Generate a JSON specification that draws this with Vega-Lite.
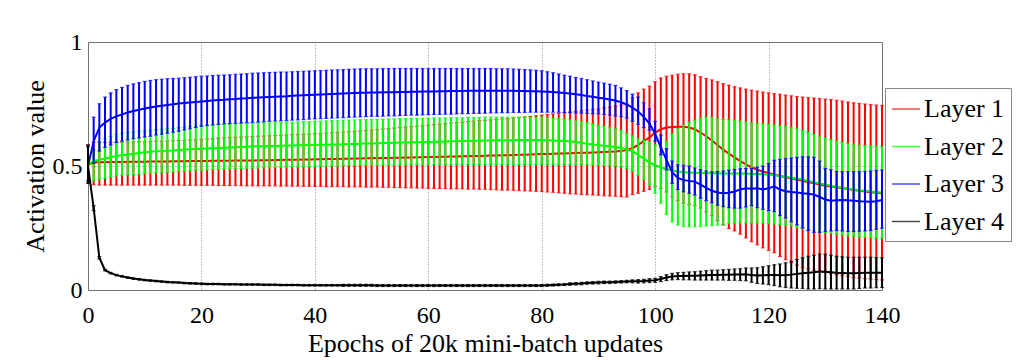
{
"$schema": "https://vega.github.io/schema/vega-lite/v6.json",
"width": 794, "height": 248,
"autosize": "none",
"padding": {"left": 88, "top": 42, "right": 142, "bottom": 74},
"background": "white",
"data": {"values": [
{"e":0,"m1":0.505,"l1":0.43,"h1":0.585,"m2":0.505,"l2":0.44,"h2":0.575,"m3":0.5,"l3":0.44,"h3":0.58,"m4":0.5,"l4":0.43,"h4":0.585},
{"e":1,"m1":0.515,"l1":0.425,"h1":0.595,"m2":0.52,"l2":0.44,"h2":0.565,"m3":0.6,"l3":0.51,"h3":0.697,"m4":0.33,"l4":0.32,"h4":0.34},
{"e":2,"m1":0.515,"l1":0.423,"h1":0.595,"m2":0.525,"l2":0.445,"h2":0.597,"m3":0.655,"l3":0.56,"h3":0.751,"m4":0.13,"l4":0.125,"h4":0.135},
{"e":3,"m1":0.515,"l1":0.423,"h1":0.595,"m2":0.53,"l2":0.45,"h2":0.61,"m3":0.675,"l3":0.575,"h3":0.778,"m4":0.08,"l4":0.077,"h4":0.083},
{"e":4,"m1":0.516,"l1":0.423,"h1":0.595,"m2":0.535,"l2":0.455,"h2":0.62,"m3":0.69,"l3":0.585,"h3":0.795,"m4":0.068,"l4":0.065,"h4":0.071},
{"e":5,"m1":0.516,"l1":0.423,"h1":0.596,"m2":0.54,"l2":0.46,"h2":0.628,"m3":0.7,"l3":0.595,"h3":0.808,"m4":0.06,"l4":0.057,"h4":0.063},
{"e":6,"m1":0.516,"l1":0.423,"h1":0.596,"m2":0.543,"l2":0.463,"h2":0.632,"m3":0.708,"l3":0.6,"h3":0.817,"m4":0.055,"l4":0.052,"h4":0.058},
{"e":7,"m1":0.517,"l1":0.423,"h1":0.597,"m2":0.546,"l2":0.464,"h2":0.635,"m3":0.716,"l3":0.605,"h3":0.825,"m4":0.05,"l4":0.047,"h4":0.053},
{"e":8,"m1":0.517,"l1":0.423,"h1":0.597,"m2":0.549,"l2":0.466,"h2":0.638,"m3":0.722,"l3":0.61,"h3":0.831,"m4":0.046,"l4":0.043,"h4":0.049},
{"e":9,"m1":0.517,"l1":0.423,"h1":0.598,"m2":0.552,"l2":0.467,"h2":0.64,"m3":0.727,"l3":0.613,"h3":0.836,"m4":0.043,"l4":0.04,"h4":0.046},
{"e":10,"m1":0.517,"l1":0.423,"h1":0.598,"m2":0.555,"l2":0.469,"h2":0.642,"m3":0.732,"l3":0.617,"h3":0.841,"m4":0.04,"l4":0.037,"h4":0.043},
{"e":11,"m1":0.518,"l1":0.423,"h1":0.599,"m2":0.557,"l2":0.47,"h2":0.644,"m3":0.736,"l3":0.62,"h3":0.845,"m4":0.038,"l4":0.035,"h4":0.041},
{"e":12,"m1":0.518,"l1":0.423,"h1":0.6,"m2":0.559,"l2":0.472,"h2":0.646,"m3":0.74,"l3":0.625,"h3":0.848,"m4":0.036,"l4":0.033,"h4":0.039},
{"e":13,"m1":0.518,"l1":0.423,"h1":0.6,"m2":0.56,"l2":0.473,"h2":0.648,"m3":0.743,"l3":0.628,"h3":0.85,"m4":0.034,"l4":0.031,"h4":0.037},
{"e":14,"m1":0.518,"l1":0.423,"h1":0.601,"m2":0.562,"l2":0.475,"h2":0.65,"m3":0.746,"l3":0.632,"h3":0.852,"m4":0.032,"l4":0.029,"h4":0.035},
{"e":15,"m1":0.519,"l1":0.423,"h1":0.602,"m2":0.563,"l2":0.476,"h2":0.652,"m3":0.749,"l3":0.636,"h3":0.853,"m4":0.031,"l4":0.028,"h4":0.034},
{"e":16,"m1":0.519,"l1":0.423,"h1":0.603,"m2":0.565,"l2":0.478,"h2":0.655,"m3":0.752,"l3":0.64,"h3":0.854,"m4":0.03,"l4":0.027,"h4":0.033},
{"e":17,"m1":0.519,"l1":0.422,"h1":0.604,"m2":0.567,"l2":0.479,"h2":0.657,"m3":0.754,"l3":0.645,"h3":0.856,"m4":0.028,"l4":0.025,"h4":0.031},
{"e":18,"m1":0.52,"l1":0.422,"h1":0.605,"m2":0.568,"l2":0.48,"h2":0.659,"m3":0.756,"l3":0.65,"h3":0.858,"m4":0.027,"l4":0.024,"h4":0.03},
{"e":19,"m1":0.52,"l1":0.422,"h1":0.606,"m2":0.569,"l2":0.482,"h2":0.661,"m3":0.758,"l3":0.655,"h3":0.86,"m4":0.026,"l4":0.023,"h4":0.029},
{"e":20,"m1":0.52,"l1":0.422,"h1":0.607,"m2":0.57,"l2":0.483,"h2":0.663,"m3":0.76,"l3":0.66,"h3":0.862,"m4":0.025,"l4":0.022,"h4":0.028},
{"e":21,"m1":0.52,"l1":0.422,"h1":0.609,"m2":0.571,"l2":0.484,"h2":0.664,"m3":0.762,"l3":0.663,"h3":0.863,"m4":0.024,"l4":0.021,"h4":0.027},
{"e":22,"m1":0.521,"l1":0.422,"h1":0.61,"m2":0.572,"l2":0.486,"h2":0.665,"m3":0.764,"l3":0.666,"h3":0.865,"m4":0.024,"l4":0.021,"h4":0.027},
{"e":23,"m1":0.521,"l1":0.421,"h1":0.612,"m2":0.573,"l2":0.487,"h2":0.667,"m3":0.766,"l3":0.668,"h3":0.866,"m4":0.024,"l4":0.021,"h4":0.027},
{"e":24,"m1":0.521,"l1":0.421,"h1":0.614,"m2":0.574,"l2":0.488,"h2":0.668,"m3":0.767,"l3":0.67,"h3":0.867,"m4":0.023,"l4":0.02,"h4":0.026},
{"e":25,"m1":0.521,"l1":0.421,"h1":0.615,"m2":0.575,"l2":0.488,"h2":0.669,"m3":0.769,"l3":0.671,"h3":0.868,"m4":0.023,"l4":0.02,"h4":0.026},
{"e":26,"m1":0.522,"l1":0.421,"h1":0.616,"m2":0.576,"l2":0.489,"h2":0.67,"m3":0.77,"l3":0.672,"h3":0.87,"m4":0.023,"l4":0.02,"h4":0.026},
{"e":27,"m1":0.522,"l1":0.421,"h1":0.617,"m2":0.577,"l2":0.49,"h2":0.671,"m3":0.772,"l3":0.673,"h3":0.871,"m4":0.022,"l4":0.019,"h4":0.025},
{"e":28,"m1":0.522,"l1":0.42,"h1":0.618,"m2":0.578,"l2":0.491,"h2":0.671,"m3":0.773,"l3":0.675,"h3":0.872,"m4":0.022,"l4":0.019,"h4":0.025},
{"e":29,"m1":0.522,"l1":0.42,"h1":0.619,"m2":0.579,"l2":0.491,"h2":0.672,"m3":0.775,"l3":0.676,"h3":0.874,"m4":0.022,"l4":0.019,"h4":0.025},
{"e":30,"m1":0.523,"l1":0.42,"h1":0.62,"m2":0.58,"l2":0.492,"h2":0.673,"m3":0.776,"l3":0.677,"h3":0.875,"m4":0.022,"l4":0.019,"h4":0.025},
{"e":31,"m1":0.523,"l1":0.42,"h1":0.621,"m2":0.58,"l2":0.493,"h2":0.674,"m3":0.777,"l3":0.678,"h3":0.876,"m4":0.021,"l4":0.018,"h4":0.024},
{"e":32,"m1":0.523,"l1":0.42,"h1":0.622,"m2":0.581,"l2":0.493,"h2":0.674,"m3":0.778,"l3":0.68,"h3":0.877,"m4":0.021,"l4":0.018,"h4":0.024},
{"e":33,"m1":0.524,"l1":0.42,"h1":0.623,"m2":0.581,"l2":0.494,"h2":0.675,"m3":0.779,"l3":0.681,"h3":0.878,"m4":0.021,"l4":0.018,"h4":0.024},
{"e":34,"m1":0.524,"l1":0.419,"h1":0.624,"m2":0.582,"l2":0.494,"h2":0.676,"m3":0.78,"l3":0.682,"h3":0.879,"m4":0.02,"l4":0.017,"h4":0.023},
{"e":35,"m1":0.525,"l1":0.419,"h1":0.625,"m2":0.583,"l2":0.495,"h2":0.677,"m3":0.781,"l3":0.683,"h3":0.879,"m4":0.02,"l4":0.017,"h4":0.023},
{"e":36,"m1":0.525,"l1":0.419,"h1":0.626,"m2":0.583,"l2":0.496,"h2":0.677,"m3":0.783,"l3":0.685,"h3":0.88,"m4":0.02,"l4":0.017,"h4":0.023},
{"e":37,"m1":0.525,"l1":0.419,"h1":0.627,"m2":0.584,"l2":0.496,"h2":0.678,"m3":0.784,"l3":0.686,"h3":0.881,"m4":0.02,"l4":0.017,"h4":0.023},
{"e":38,"m1":0.526,"l1":0.418,"h1":0.628,"m2":0.584,"l2":0.497,"h2":0.679,"m3":0.785,"l3":0.687,"h3":0.882,"m4":0.019,"l4":0.016,"h4":0.022},
{"e":39,"m1":0.526,"l1":0.418,"h1":0.629,"m2":0.585,"l2":0.497,"h2":0.679,"m3":0.786,"l3":0.689,"h3":0.883,"m4":0.019,"l4":0.016,"h4":0.022},
{"e":40,"m1":0.527,"l1":0.418,"h1":0.63,"m2":0.585,"l2":0.498,"h2":0.68,"m3":0.787,"l3":0.69,"h3":0.884,"m4":0.019,"l4":0.016,"h4":0.022},
{"e":41,"m1":0.527,"l1":0.418,"h1":0.631,"m2":0.586,"l2":0.499,"h2":0.681,"m3":0.788,"l3":0.691,"h3":0.885,"m4":0.019,"l4":0.016,"h4":0.022},
{"e":42,"m1":0.528,"l1":0.417,"h1":0.633,"m2":0.586,"l2":0.499,"h2":0.682,"m3":0.789,"l3":0.692,"h3":0.886,"m4":0.019,"l4":0.016,"h4":0.022},
{"e":43,"m1":0.528,"l1":0.417,"h1":0.634,"m2":0.587,"l2":0.5,"h2":0.683,"m3":0.79,"l3":0.693,"h3":0.887,"m4":0.019,"l4":0.016,"h4":0.022},
{"e":44,"m1":0.528,"l1":0.417,"h1":0.636,"m2":0.587,"l2":0.5,"h2":0.684,"m3":0.791,"l3":0.694,"h3":0.888,"m4":0.019,"l4":0.016,"h4":0.022},
{"e":45,"m1":0.529,"l1":0.417,"h1":0.637,"m2":0.588,"l2":0.501,"h2":0.685,"m3":0.792,"l3":0.695,"h3":0.889,"m4":0.019,"l4":0.015,"h4":0.023},
{"e":46,"m1":0.529,"l1":0.416,"h1":0.639,"m2":0.589,"l2":0.502,"h2":0.685,"m3":0.793,"l3":0.696,"h3":0.89,"m4":0.019,"l4":0.015,"h4":0.023},
{"e":47,"m1":0.53,"l1":0.416,"h1":0.64,"m2":0.589,"l2":0.502,"h2":0.686,"m3":0.794,"l3":0.697,"h3":0.891,"m4":0.019,"l4":0.015,"h4":0.023},
{"e":48,"m1":0.53,"l1":0.416,"h1":0.642,"m2":0.59,"l2":0.503,"h2":0.687,"m3":0.795,"l3":0.698,"h3":0.892,"m4":0.019,"l4":0.015,"h4":0.023},
{"e":49,"m1":0.531,"l1":0.415,"h1":0.643,"m2":0.591,"l2":0.503,"h2":0.687,"m3":0.795,"l3":0.699,"h3":0.892,"m4":0.019,"l4":0.015,"h4":0.023},
{"e":50,"m1":0.531,"l1":0.415,"h1":0.645,"m2":0.591,"l2":0.503,"h2":0.688,"m3":0.796,"l3":0.7,"h3":0.892,"m4":0.019,"l4":0.015,"h4":0.023},
{"e":51,"m1":0.532,"l1":0.415,"h1":0.647,"m2":0.592,"l2":0.503,"h2":0.688,"m3":0.796,"l3":0.7,"h3":0.892,"m4":0.018,"l4":0.014,"h4":0.022},
{"e":52,"m1":0.532,"l1":0.414,"h1":0.649,"m2":0.593,"l2":0.504,"h2":0.689,"m3":0.797,"l3":0.701,"h3":0.893,"m4":0.018,"l4":0.014,"h4":0.022},
{"e":53,"m1":0.532,"l1":0.414,"h1":0.651,"m2":0.593,"l2":0.504,"h2":0.69,"m3":0.797,"l3":0.702,"h3":0.893,"m4":0.018,"l4":0.014,"h4":0.022},
{"e":54,"m1":0.533,"l1":0.413,"h1":0.653,"m2":0.594,"l2":0.504,"h2":0.69,"m3":0.797,"l3":0.702,"h3":0.893,"m4":0.018,"l4":0.014,"h4":0.022},
{"e":55,"m1":0.533,"l1":0.413,"h1":0.655,"m2":0.595,"l2":0.504,"h2":0.691,"m3":0.798,"l3":0.703,"h3":0.893,"m4":0.018,"l4":0.014,"h4":0.022},
{"e":56,"m1":0.534,"l1":0.412,"h1":0.657,"m2":0.595,"l2":0.504,"h2":0.691,"m3":0.798,"l3":0.704,"h3":0.893,"m4":0.018,"l4":0.014,"h4":0.022},
{"e":57,"m1":0.534,"l1":0.412,"h1":0.659,"m2":0.596,"l2":0.505,"h2":0.692,"m3":0.799,"l3":0.705,"h3":0.893,"m4":0.018,"l4":0.014,"h4":0.022},
{"e":58,"m1":0.535,"l1":0.411,"h1":0.661,"m2":0.596,"l2":0.505,"h2":0.692,"m3":0.799,"l3":0.705,"h3":0.893,"m4":0.018,"l4":0.014,"h4":0.022},
{"e":59,"m1":0.535,"l1":0.411,"h1":0.663,"m2":0.597,"l2":0.505,"h2":0.693,"m3":0.8,"l3":0.706,"h3":0.893,"m4":0.018,"l4":0.014,"h4":0.022},
{"e":60,"m1":0.536,"l1":0.41,"h1":0.665,"m2":0.597,"l2":0.505,"h2":0.693,"m3":0.8,"l3":0.707,"h3":0.893,"m4":0.018,"l4":0.014,"h4":0.022},
{"e":61,"m1":0.536,"l1":0.41,"h1":0.667,"m2":0.598,"l2":0.505,"h2":0.694,"m3":0.8,"l3":0.708,"h3":0.893,"m4":0.018,"l4":0.014,"h4":0.022},
{"e":62,"m1":0.537,"l1":0.409,"h1":0.669,"m2":0.598,"l2":0.505,"h2":0.694,"m3":0.801,"l3":0.708,"h3":0.893,"m4":0.018,"l4":0.014,"h4":0.022},
{"e":63,"m1":0.537,"l1":0.409,"h1":0.671,"m2":0.599,"l2":0.505,"h2":0.694,"m3":0.801,"l3":0.709,"h3":0.893,"m4":0.018,"l4":0.014,"h4":0.022},
{"e":64,"m1":0.538,"l1":0.408,"h1":0.673,"m2":0.6,"l2":0.505,"h2":0.695,"m3":0.802,"l3":0.709,"h3":0.893,"m4":0.018,"l4":0.014,"h4":0.022},
{"e":65,"m1":0.538,"l1":0.408,"h1":0.675,"m2":0.6,"l2":0.506,"h2":0.695,"m3":0.802,"l3":0.71,"h3":0.893,"m4":0.018,"l4":0.014,"h4":0.022},
{"e":66,"m1":0.539,"l1":0.408,"h1":0.677,"m2":0.601,"l2":0.506,"h2":0.695,"m3":0.802,"l3":0.711,"h3":0.893,"m4":0.018,"l4":0.014,"h4":0.022},
{"e":67,"m1":0.539,"l1":0.407,"h1":0.679,"m2":0.601,"l2":0.506,"h2":0.696,"m3":0.803,"l3":0.711,"h3":0.893,"m4":0.018,"l4":0.014,"h4":0.022},
{"e":68,"m1":0.54,"l1":0.407,"h1":0.681,"m2":0.602,"l2":0.506,"h2":0.696,"m3":0.803,"l3":0.712,"h3":0.893,"m4":0.018,"l4":0.014,"h4":0.022},
{"e":69,"m1":0.54,"l1":0.406,"h1":0.683,"m2":0.602,"l2":0.506,"h2":0.696,"m3":0.803,"l3":0.712,"h3":0.893,"m4":0.018,"l4":0.014,"h4":0.022},
{"e":70,"m1":0.541,"l1":0.406,"h1":0.684,"m2":0.603,"l2":0.506,"h2":0.697,"m3":0.803,"l3":0.713,"h3":0.893,"m4":0.018,"l4":0.014,"h4":0.022},
{"e":71,"m1":0.542,"l1":0.405,"h1":0.686,"m2":0.603,"l2":0.506,"h2":0.697,"m3":0.803,"l3":0.714,"h3":0.893,"m4":0.018,"l4":0.014,"h4":0.022},
{"e":72,"m1":0.542,"l1":0.404,"h1":0.688,"m2":0.604,"l2":0.506,"h2":0.697,"m3":0.803,"l3":0.714,"h3":0.892,"m4":0.018,"l4":0.014,"h4":0.022},
{"e":73,"m1":0.543,"l1":0.403,"h1":0.69,"m2":0.604,"l2":0.506,"h2":0.697,"m3":0.803,"l3":0.715,"h3":0.892,"m4":0.018,"l4":0.014,"h4":0.022},
{"e":74,"m1":0.543,"l1":0.403,"h1":0.691,"m2":0.604,"l2":0.506,"h2":0.697,"m3":0.803,"l3":0.715,"h3":0.892,"m4":0.018,"l4":0.014,"h4":0.022},
{"e":75,"m1":0.544,"l1":0.402,"h1":0.693,"m2":0.605,"l2":0.506,"h2":0.697,"m3":0.803,"l3":0.716,"h3":0.891,"m4":0.018,"l4":0.014,"h4":0.022},
{"e":76,"m1":0.545,"l1":0.401,"h1":0.695,"m2":0.605,"l2":0.506,"h2":0.697,"m3":0.802,"l3":0.716,"h3":0.89,"m4":0.018,"l4":0.014,"h4":0.022},
{"e":77,"m1":0.545,"l1":0.4,"h1":0.698,"m2":0.605,"l2":0.506,"h2":0.697,"m3":0.802,"l3":0.716,"h3":0.889,"m4":0.018,"l4":0.014,"h4":0.022},
{"e":78,"m1":0.546,"l1":0.399,"h1":0.7,"m2":0.605,"l2":0.506,"h2":0.697,"m3":0.801,"l3":0.717,"h3":0.888,"m4":0.018,"l4":0.014,"h4":0.022},
{"e":79,"m1":0.547,"l1":0.398,"h1":0.703,"m2":0.605,"l2":0.506,"h2":0.697,"m3":0.801,"l3":0.717,"h3":0.886,"m4":0.018,"l4":0.014,"h4":0.022},
{"e":80,"m1":0.548,"l1":0.397,"h1":0.705,"m2":0.605,"l2":0.506,"h2":0.697,"m3":0.8,"l3":0.717,"h3":0.884,"m4":0.018,"l4":0.014,"h4":0.022},
{"e":81,"m1":0.548,"l1":0.395,"h1":0.708,"m2":0.604,"l2":0.506,"h2":0.695,"m3":0.799,"l3":0.717,"h3":0.88,"m4":0.019,"l4":0.015,"h4":0.023},
{"e":82,"m1":0.549,"l1":0.394,"h1":0.71,"m2":0.603,"l2":0.506,"h2":0.693,"m3":0.798,"l3":0.717,"h3":0.876,"m4":0.02,"l4":0.016,"h4":0.024},
{"e":83,"m1":0.55,"l1":0.392,"h1":0.713,"m2":0.602,"l2":0.506,"h2":0.691,"m3":0.796,"l3":0.717,"h3":0.871,"m4":0.021,"l4":0.017,"h4":0.025},
{"e":84,"m1":0.55,"l1":0.39,"h1":0.715,"m2":0.601,"l2":0.505,"h2":0.689,"m3":0.794,"l3":0.716,"h3":0.866,"m4":0.022,"l4":0.018,"h4":0.026},
{"e":85,"m1":0.551,"l1":0.388,"h1":0.718,"m2":0.6,"l2":0.505,"h2":0.686,"m3":0.792,"l3":0.715,"h3":0.862,"m4":0.024,"l4":0.019,"h4":0.029},
{"e":86,"m1":0.552,"l1":0.387,"h1":0.72,"m2":0.597,"l2":0.505,"h2":0.683,"m3":0.789,"l3":0.714,"h3":0.857,"m4":0.025,"l4":0.02,"h4":0.03},
{"e":87,"m1":0.553,"l1":0.385,"h1":0.723,"m2":0.594,"l2":0.505,"h2":0.679,"m3":0.786,"l3":0.713,"h3":0.853,"m4":0.026,"l4":0.021,"h4":0.031},
{"e":88,"m1":0.553,"l1":0.384,"h1":0.725,"m2":0.59,"l2":0.505,"h2":0.675,"m3":0.782,"l3":0.712,"h3":0.848,"m4":0.028,"l4":0.023,"h4":0.033},
{"e":89,"m1":0.554,"l1":0.383,"h1":0.728,"m2":0.587,"l2":0.504,"h2":0.67,"m3":0.779,"l3":0.711,"h3":0.843,"m4":0.029,"l4":0.024,"h4":0.034},
{"e":90,"m1":0.555,"l1":0.382,"h1":0.73,"m2":0.585,"l2":0.503,"h2":0.664,"m3":0.775,"l3":0.71,"h3":0.838,"m4":0.03,"l4":0.025,"h4":0.035},
{"e":91,"m1":0.556,"l1":0.38,"h1":0.734,"m2":0.582,"l2":0.502,"h2":0.66,"m3":0.772,"l3":0.708,"h3":0.834,"m4":0.031,"l4":0.026,"h4":0.036},
{"e":92,"m1":0.557,"l1":0.379,"h1":0.738,"m2":0.58,"l2":0.501,"h2":0.655,"m3":0.768,"l3":0.705,"h3":0.83,"m4":0.031,"l4":0.026,"h4":0.036},
{"e":93,"m1":0.558,"l1":0.378,"h1":0.742,"m2":0.577,"l2":0.5,"h2":0.65,"m3":0.764,"l3":0.702,"h3":0.825,"m4":0.032,"l4":0.027,"h4":0.037},
{"e":94,"m1":0.56,"l1":0.376,"h1":0.746,"m2":0.573,"l2":0.497,"h2":0.644,"m3":0.757,"l3":0.699,"h3":0.815,"m4":0.033,"l4":0.028,"h4":0.038},
{"e":95,"m1":0.565,"l1":0.375,"h1":0.75,"m2":0.568,"l2":0.49,"h2":0.632,"m3":0.748,"l3":0.693,"h3":0.804,"m4":0.034,"l4":0.029,"h4":0.039},
{"e":96,"m1":0.572,"l1":0.385,"h1":0.775,"m2":0.56,"l2":0.478,"h2":0.622,"m3":0.735,"l3":0.68,"h3":0.79,"m4":0.035,"l4":0.029,"h4":0.041},
{"e":97,"m1":0.585,"l1":0.39,"h1":0.795,"m2":0.545,"l2":0.463,"h2":0.61,"m3":0.72,"l3":0.668,"h3":0.778,"m4":0.035,"l4":0.028,"h4":0.042},
{"e":98,"m1":0.6,"l1":0.398,"h1":0.81,"m2":0.53,"l2":0.445,"h2":0.603,"m3":0.698,"l3":0.655,"h3":0.755,"m4":0.036,"l4":0.029,"h4":0.043},
{"e":99,"m1":0.615,"l1":0.405,"h1":0.822,"m2":0.515,"l2":0.423,"h2":0.597,"m3":0.671,"l3":0.644,"h3":0.731,"m4":0.038,"l4":0.03,"h4":0.046},
{"e":100,"m1":0.635,"l1":0.418,"h1":0.84,"m2":0.503,"l2":0.39,"h2":0.585,"m3":0.63,"l3":0.6,"h3":0.68,"m4":0.039,"l4":0.031,"h4":0.047},
{"e":101,"m1":0.648,"l1":0.41,"h1":0.855,"m2":0.495,"l2":0.35,"h2":0.575,"m3":0.575,"l3":0.545,"h3":0.625,"m4":0.044,"l4":0.034,"h4":0.054},
{"e":102,"m1":0.655,"l1":0.395,"h1":0.862,"m2":0.488,"l2":0.305,"h2":0.6,"m3":0.525,"l3":0.485,"h3":0.57,"m4":0.05,"l4":0.038,"h4":0.062},
{"e":103,"m1":0.657,"l1":0.375,"h1":0.866,"m2":0.483,"l2":0.275,"h2":0.63,"m3":0.475,"l3":0.43,"h3":0.52,"m4":0.054,"l4":0.041,"h4":0.067},
{"e":104,"m1":0.658,"l1":0.36,"h1":0.87,"m2":0.478,"l2":0.262,"h2":0.651,"m3":0.452,"l3":0.405,"h3":0.505,"m4":0.056,"l4":0.042,"h4":0.07},
{"e":105,"m1":0.658,"l1":0.35,"h1":0.872,"m2":0.475,"l2":0.256,"h2":0.665,"m3":0.443,"l3":0.396,"h3":0.503,"m4":0.056,"l4":0.041,"h4":0.071},
{"e":106,"m1":0.655,"l1":0.345,"h1":0.872,"m2":0.473,"l2":0.255,"h2":0.677,"m3":0.44,"l3":0.39,"h3":0.5,"m4":0.057,"l4":0.041,"h4":0.073},
{"e":107,"m1":0.648,"l1":0.34,"h1":0.868,"m2":0.473,"l2":0.255,"h2":0.685,"m3":0.437,"l3":0.383,"h3":0.492,"m4":0.057,"l4":0.04,"h4":0.074},
{"e":108,"m1":0.635,"l1":0.33,"h1":0.86,"m2":0.472,"l2":0.256,"h2":0.692,"m3":0.425,"l3":0.37,"h3":0.485,"m4":0.058,"l4":0.04,"h4":0.076},
{"e":109,"m1":0.62,"l1":0.315,"h1":0.853,"m2":0.472,"l2":0.258,"h2":0.697,"m3":0.412,"l3":0.36,"h3":0.48,"m4":0.059,"l4":0.04,"h4":0.078},
{"e":110,"m1":0.603,"l1":0.3,"h1":0.847,"m2":0.471,"l2":0.26,"h2":0.695,"m3":0.4,"l3":0.352,"h3":0.477,"m4":0.06,"l4":0.04,"h4":0.08},
{"e":111,"m1":0.585,"l1":0.28,"h1":0.84,"m2":0.471,"l2":0.262,"h2":0.69,"m3":0.393,"l3":0.342,"h3":0.478,"m4":0.06,"l4":0.04,"h4":0.08},
{"e":112,"m1":0.566,"l1":0.262,"h1":0.832,"m2":0.47,"l2":0.265,"h2":0.688,"m3":0.39,"l3":0.336,"h3":0.48,"m4":0.061,"l4":0.04,"h4":0.082},
{"e":113,"m1":0.55,"l1":0.248,"h1":0.826,"m2":0.47,"l2":0.268,"h2":0.686,"m3":0.392,"l3":0.332,"h3":0.483,"m4":0.061,"l4":0.039,"h4":0.083},
{"e":114,"m1":0.535,"l1":0.238,"h1":0.82,"m2":0.47,"l2":0.27,"h2":0.684,"m3":0.397,"l3":0.33,"h3":0.486,"m4":0.062,"l4":0.039,"h4":0.085},
{"e":115,"m1":0.52,"l1":0.225,"h1":0.815,"m2":0.47,"l2":0.271,"h2":0.681,"m3":0.405,"l3":0.33,"h3":0.489,"m4":0.062,"l4":0.038,"h4":0.086},
{"e":116,"m1":0.507,"l1":0.21,"h1":0.81,"m2":0.469,"l2":0.27,"h2":0.678,"m3":0.41,"l3":0.335,"h3":0.49,"m4":0.063,"l4":0.037,"h4":0.089},
{"e":117,"m1":0.495,"l1":0.195,"h1":0.806,"m2":0.469,"l2":0.27,"h2":0.674,"m3":0.408,"l3":0.34,"h3":0.49,"m4":0.06,"l4":0.031,"h4":0.089},
{"e":118,"m1":0.485,"l1":0.182,"h1":0.802,"m2":0.468,"l2":0.27,"h2":0.671,"m3":0.41,"l3":0.332,"h3":0.495,"m4":0.058,"l4":0.026,"h4":0.09},
{"e":119,"m1":0.478,"l1":0.17,"h1":0.798,"m2":0.467,"l2":0.27,"h2":0.67,"m3":0.405,"l3":0.325,"h3":0.5,"m4":0.059,"l4":0.024,"h4":0.094},
{"e":120,"m1":0.472,"l1":0.16,"h1":0.795,"m2":0.466,"l2":0.268,"h2":0.668,"m3":0.41,"l3":0.32,"h3":0.51,"m4":0.06,"l4":0.022,"h4":0.098},
{"e":121,"m1":0.466,"l1":0.15,"h1":0.792,"m2":0.463,"l2":0.266,"h2":0.665,"m3":0.418,"l3":0.316,"h3":0.523,"m4":0.06,"l4":0.018,"h4":0.102},
{"e":122,"m1":0.46,"l1":0.135,"h1":0.789,"m2":0.46,"l2":0.264,"h2":0.662,"m3":0.405,"l3":0.3,"h3":0.527,"m4":0.059,"l4":0.013,"h4":0.105},
{"e":123,"m1":0.455,"l1":0.122,"h1":0.786,"m2":0.457,"l2":0.262,"h2":0.658,"m3":0.398,"l3":0.29,"h3":0.53,"m4":0.06,"l4":0.01,"h4":0.11},
{"e":124,"m1":0.45,"l1":0.11,"h1":0.783,"m2":0.453,"l2":0.258,"h2":0.655,"m3":0.395,"l3":0.275,"h3":0.532,"m4":0.062,"l4":0.008,"h4":0.116},
{"e":125,"m1":0.445,"l1":0.1,"h1":0.78,"m2":0.45,"l2":0.253,"h2":0.65,"m3":0.393,"l3":0.262,"h3":0.535,"m4":0.065,"l4":0.007,"h4":0.123},
{"e":126,"m1":0.44,"l1":0.09,"h1":0.778,"m2":0.445,"l2":0.248,"h2":0.643,"m3":0.39,"l3":0.25,"h3":0.537,"m4":0.068,"l4":0.006,"h4":0.13},
{"e":127,"m1":0.435,"l1":0.085,"h1":0.776,"m2":0.44,"l2":0.243,"h2":0.635,"m3":0.388,"l3":0.24,"h3":0.537,"m4":0.07,"l4":0.004,"h4":0.136},
{"e":128,"m1":0.43,"l1":0.08,"h1":0.774,"m2":0.435,"l2":0.238,"h2":0.627,"m3":0.385,"l3":0.232,"h3":0.535,"m4":0.072,"l4":0.004,"h4":0.14},
{"e":129,"m1":0.425,"l1":0.075,"h1":0.772,"m2":0.43,"l2":0.235,"h2":0.618,"m3":0.375,"l3":0.232,"h3":0.52,"m4":0.075,"l4":0.005,"h4":0.145},
{"e":130,"m1":0.42,"l1":0.07,"h1":0.77,"m2":0.425,"l2":0.232,"h2":0.612,"m3":0.365,"l3":0.236,"h3":0.49,"m4":0.074,"l4":0.004,"h4":0.144},
{"e":131,"m1":0.417,"l1":0.066,"h1":0.768,"m2":0.42,"l2":0.228,"h2":0.606,"m3":0.36,"l3":0.238,"h3":0.485,"m4":0.072,"l4":0.004,"h4":0.14},
{"e":132,"m1":0.414,"l1":0.062,"h1":0.765,"m2":0.416,"l2":0.225,"h2":0.6,"m3":0.362,"l3":0.24,"h3":0.478,"m4":0.07,"l4":0.004,"h4":0.136},
{"e":133,"m1":0.41,"l1":0.058,"h1":0.762,"m2":0.412,"l2":0.222,"h2":0.595,"m3":0.363,"l3":0.238,"h3":0.477,"m4":0.069,"l4":0.004,"h4":0.134},
{"e":134,"m1":0.407,"l1":0.054,"h1":0.758,"m2":0.408,"l2":0.219,"h2":0.59,"m3":0.362,"l3":0.236,"h3":0.477,"m4":0.068,"l4":0.004,"h4":0.132},
{"e":135,"m1":0.403,"l1":0.05,"h1":0.755,"m2":0.405,"l2":0.216,"h2":0.586,"m3":0.36,"l3":0.236,"h3":0.477,"m4":0.068,"l4":0.004,"h4":0.132},
{"e":136,"m1":0.4,"l1":0.048,"h1":0.752,"m2":0.402,"l2":0.214,"h2":0.584,"m3":0.358,"l3":0.237,"h3":0.477,"m4":0.069,"l4":0.006,"h4":0.132},
{"e":137,"m1":0.397,"l1":0.046,"h1":0.75,"m2":0.4,"l2":0.212,"h2":0.582,"m3":0.357,"l3":0.238,"h3":0.478,"m4":0.07,"l4":0.008,"h4":0.132},
{"e":138,"m1":0.394,"l1":0.044,"h1":0.748,"m2":0.397,"l2":0.211,"h2":0.58,"m3":0.356,"l3":0.24,"h3":0.48,"m4":0.07,"l4":0.008,"h4":0.132},
{"e":139,"m1":0.392,"l1":0.042,"h1":0.746,"m2":0.395,"l2":0.21,"h2":0.578,"m3":0.358,"l3":0.245,"h3":0.482,"m4":0.07,"l4":0.009,"h4":0.131},
{"e":140,"m1":0.39,"l1":0.041,"h1":0.744,"m2":0.393,"l2":0.209,"h2":0.577,"m3":0.363,"l3":0.249,"h3":0.484,"m4":0.07,"l4":0.01,"h4":0.13}
]},
"encoding": {
  "x": {"field": "e", "type": "quantitative",
    "scale": {"domain": [0, 140], "nice": false, "zero": false},
    "axis": {"title": "Epochs of 20k mini-batch updates", "values": [0, 20, 40, 60, 80, 100, 120, 140],
      "grid": true, "ticks": false, "domain": false, "labelPadding": 13, "titlePadding": 3,
      "labelFlush": false, "labelOverlap": false}}
},
"layer": [
  {"mark": {"type": "errorbar", "ticks": {"size": 4, "thickness": 1.2}, "rule": {"strokeWidth": 2}},
   "encoding": {
     "y": {"field": "l1", "type": "quantitative", "title": "Activation value"},
     "y2": {"field": "h1"},
     "color": {"datum": "Layer 1",
       "scale": {"domain": ["Layer 1", "Layer 2", "Layer 3", "Layer 4"], "range": ["#ff0000", "#00ff00", "#0000ff", "#000000"]},
       "legend": {"title": null, "orient": "none", "legendX": 797, "legendY": 46, "symbolType": "stroke",
         "symbolSize": 784, "symbolStrokeWidth": 1.5, "labelFont": "Liberation Serif", "labelFontSize": 26,
         "labelColor": "black", "labelOffset": 3, "rowPadding": 9.5, "padding": 6,
         "strokeColor": "#888888", "fillColor": "white", "labelLimit": 300}}
   }},
  {"mark": {"type": "line", "strokeWidth": 2},
   "encoding": {"y": {"field": "m1", "type": "quantitative", "title": "Activation value",
       "scale": {"domain": [0, 1], "nice": false, "zero": false},
       "axis": {"values": [0, 0.5, 1], "labelExpr": "toString(datum.value)", "grid": true, "ticks": false,
         "domain": false, "labelPadding": 6, "titlePadding": 4, "labelFlush": false}},
     "color": {"datum": "Layer 1"}}},
  {"mark": {"type": "errorbar", "ticks": {"size": 4, "thickness": 1.2}, "rule": {"strokeWidth": 2}},
   "encoding": {"y": {"field": "l2", "type": "quantitative", "title": "Activation value"}, "y2": {"field": "h2"}, "color": {"datum": "Layer 2"}}},
  {"mark": {"type": "line", "strokeWidth": 2},
   "encoding": {"y": {"field": "m2", "type": "quantitative", "title": "Activation value"}, "color": {"datum": "Layer 2"}}},
  {"mark": {"type": "errorbar", "ticks": {"size": 4, "thickness": 1.2}, "rule": {"strokeWidth": 2}},
   "encoding": {"y": {"field": "l3", "type": "quantitative", "title": "Activation value"}, "y2": {"field": "h3"}, "color": {"datum": "Layer 3"}}},
  {"mark": {"type": "line", "strokeWidth": 2},
   "encoding": {"y": {"field": "m3", "type": "quantitative", "title": "Activation value"}, "color": {"datum": "Layer 3"}}},
  {"mark": {"type": "errorbar", "ticks": {"size": 4, "thickness": 1.2}, "rule": {"strokeWidth": 2}},
   "encoding": {"y": {"field": "l4", "type": "quantitative", "title": "Activation value"}, "y2": {"field": "h4"}, "color": {"datum": "Layer 4"}}},
  {"mark": {"type": "line", "strokeWidth": 2},
   "encoding": {"y": {"field": "m4", "type": "quantitative", "title": "Activation value"}, "color": {"datum": "Layer 4"}}}
],
"config": {
  "font": "Liberation Serif",
  "view": {"stroke": "#666666", "strokeWidth": 1},
  "axis": {"labelFont": "Liberation Serif", "labelFontSize": 24, "labelColor": "#000000",
    "titleFont": "Liberation Serif", "titleFontSize": 26, "titleFontWeight": "normal", "titleColor": "#000000",
    "gridColor": "#8a8a8a", "gridDash": [1, 2], "gridWidth": 1, "gridOpacity": 1}
}
}
